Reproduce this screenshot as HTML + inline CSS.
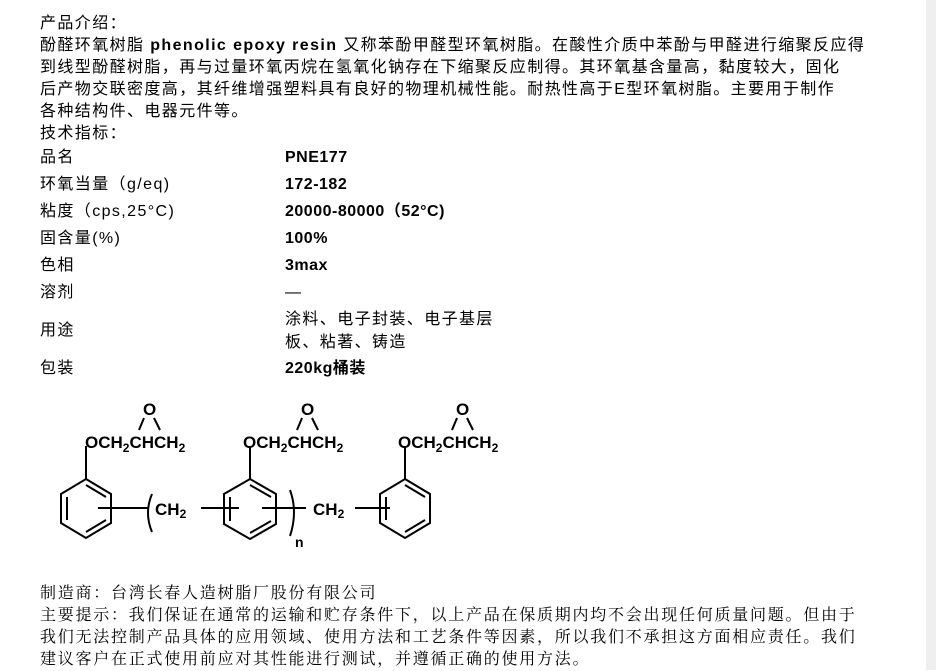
<!DOCTYPE html>
<html><head><meta charset="utf-8"><style>
html,body{margin:0;padding:0;background:#fff;}
body{width:936px;height:670px;position:relative;overflow:hidden;color:#000;}
.strip{position:absolute;left:926px;top:0;width:10px;height:670px;background:#efefef;}
.t{position:absolute;left:40px;white-space:nowrap;font-family:"Liberation Sans","Noto Sans CJK SC",sans-serif;font-size:16px;letter-spacing:1.4px;line-height:22px;}
.b{font-weight:bold;}
.v{position:absolute;left:285px;white-space:nowrap;font-family:"Liberation Sans","Noto Sans CJK SC",sans-serif;font-size:16px;font-weight:bold;line-height:22px;letter-spacing:0.5px;}
.s{position:absolute;left:40px;white-space:nowrap;font-family:"Liberation Serif","Noto Serif CJK SC",serif;font-size:16px;letter-spacing:1.75px;line-height:22px;}
svg{position:absolute;left:0;top:0;}
</style></head><body>
<div class="strip"></div>
<div class="t" style="top:13px">产品介绍：</div>
<div class="t" style="top:35px">酚醛环氧树脂 <b>phenolic epoxy resin</b> 又称苯酚甲醛型环氧树脂。在酸性介质中苯酚与甲醛进行缩聚反应得</div>
<div class="t" style="top:57px">到线型酚醛树脂，再与过量环氧丙烷在氢氧化钠存在下缩聚反应制得。其环氧基含量高，黏度较大，固化</div>
<div class="t" style="top:79px">后产物交联密度高，其纤维增强塑料具有良好的物理机械性能。耐热性高于E型环氧树脂。主要用于制作</div>
<div class="t" style="top:101px">各种结构件、电器元件等。</div>
<div class="t" style="top:123px">技术指标：</div>

<div class="t" style="top:147px">品名</div><div class="v" style="top:147px">PNE177</div>
<div class="t" style="top:174px">环氧当量（g/eq)</div><div class="v" style="top:174px">172-182</div>
<div class="t" style="top:201px">粘度（cps,25°C)</div><div class="v" style="top:201px">20000-80000（52°C)</div>
<div class="t" style="top:228px">固含量(%)</div><div class="v" style="top:228px">100%</div>
<div class="t" style="top:255px">色相</div><div class="v" style="top:255px">3max</div>
<div class="t" style="top:282px">溶剂</div><div class="v" style="top:282px;font-weight:normal">—</div>
<div class="t" style="top:320px">用途</div>
<div class="v" style="top:309px;font-weight:normal;letter-spacing:1.4px">涂料、电子封装、电子基层</div>
<div class="v" style="top:332px;font-weight:normal;letter-spacing:1.4px">板、粘著、铸造</div>
<div class="t" style="top:358px">包装</div><div class="v" style="top:358px">220kg桶装</div>

<svg width="936" height="670" viewBox="0 0 936 670">
<g stroke="#000" stroke-width="2" fill="none">
<polygon points="86,479 111,494 111,523 86,538 61,523 61,494"/>
<line x1="86" y1="485" x2="106" y2="497"/><line x1="106" y1="520" x2="86" y2="532"/><line x1="67" y1="497" x2="67" y2="520"/>
<line x1="86" y1="479" x2="86" y2="446"/>
<polygon points="250,479 276,494 276,524 250,539 224,524 224,494"/>
<line x1="250" y1="485" x2="271" y2="497"/><line x1="271" y1="521" x2="250" y2="533"/><line x1="230" y1="497" x2="230" y2="521"/>
<line x1="250" y1="479" x2="250" y2="446"/>
<polygon points="405,479 430,494 430,523 405,538 380,523 380,494"/>
<line x1="405" y1="485" x2="425" y2="497"/><line x1="425" y1="520" x2="405" y2="532"/><line x1="386" y1="497" x2="386" y2="520"/>
<line x1="405" y1="479" x2="405" y2="446"/>
<line x1="98" y1="508" x2="148" y2="508"/>
<line x1="201" y1="508" x2="239" y2="508"/>
<line x1="262" y1="508" x2="306" y2="508"/>
<line x1="355" y1="508" x2="390" y2="508"/>
<path d="M152,494 Q144,513 152,532"/>
<path d="M290,490 Q298,512 290,536"/>
<line x1="144" y1="418" x2="139" y2="430"/><line x1="154" y1="418" x2="160" y2="430"/>
<line x1="302" y1="418" x2="297" y2="430"/><line x1="312" y1="418" x2="318" y2="430"/>
<line x1="457" y1="418" x2="452" y2="430"/><line x1="467" y1="418" x2="473" y2="430"/>
</g>
<g font-family="Liberation Sans, sans-serif" font-weight="bold" font-size="17" fill="#000">
<text x="143" y="415">O</text><text x="301" y="415">O</text><text x="456" y="415">O</text>
<text x="85" y="448">OCH<tspan font-size="12" dy="4">2</tspan><tspan dy="-4">CHCH</tspan><tspan font-size="12" dy="4">2</tspan></text>
<text x="243" y="448">OCH<tspan font-size="12" dy="4">2</tspan><tspan dy="-4">CHCH</tspan><tspan font-size="12" dy="4">2</tspan></text>
<text x="398" y="448">OCH<tspan font-size="12" dy="4">2</tspan><tspan dy="-4">CHCH</tspan><tspan font-size="12" dy="4">2</tspan></text>
<text x="155" y="515">CH<tspan font-size="12" dy="3">2</tspan></text>
<text x="313" y="515">CH<tspan font-size="12" dy="3">2</tspan></text>
<text x="295" y="547" font-size="14">n</text>
</g>
</svg>

<div class="s" style="top:583px">制造商：台湾长春人造树脂厂股份有限公司</div>
<div class="s" style="top:605px">主要提示：我们保证在通常的运输和贮存条件下，以上产品在保质期内均不会出现任何质量问题。但由于</div>
<div class="s" style="top:627px">我们无法控制产品具体的应用领域、使用方法和工艺条件等因素，所以我们不承担这方面相应责任。我们</div>
<div class="s" style="top:649px">建议客户在正式使用前应对其性能进行测试，并遵循正确的使用方法。</div>
</body></html>
